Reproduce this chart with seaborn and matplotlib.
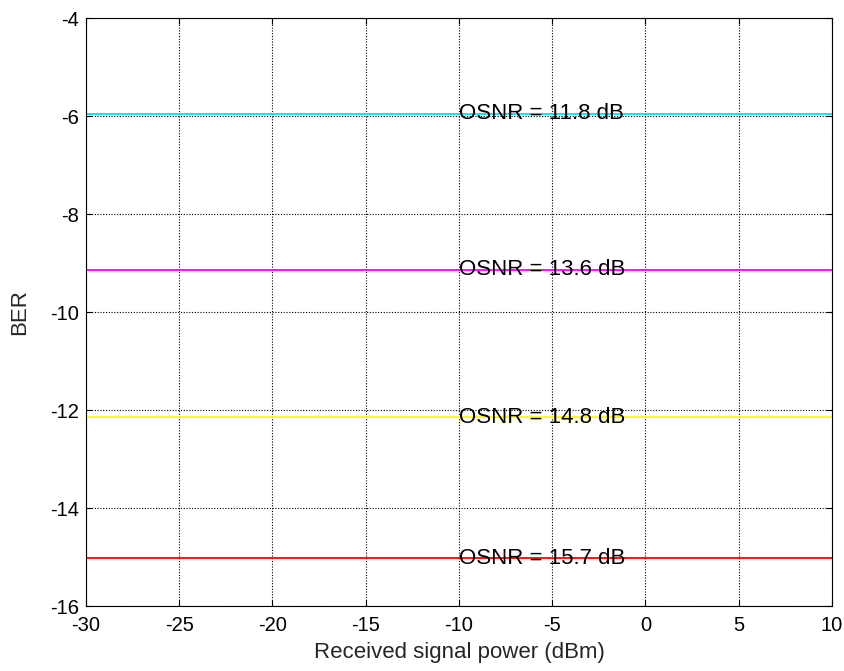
import matplotlib
matplotlib.use("Agg")
import matplotlib.pyplot as plt
import seaborn as sns
import pandas as pd
import numpy as np

x_range = [-30, 10]
osnr_labels = ["OSNR = 11.8 dB", "OSNR = 13.6 dB", "OSNR = 14.8 dB", "OSNR = 15.7 dB"]
ber_values = [-5.95, -9.14, -12.15, -15.03]
colors = ["#00e5e5", "#ff00ff", "#ffff00", "#ff0000"]
label_x = -10
x_ticks = [-30, -25, -20, -15, -10, -5, 0, 5, 10]
y_ticks = [-16, -14, -12, -10, -8, -6, -4]

sns.set_theme(style="white")
plt.rcParams['font.family'] = ['Liberation Sans', 'DejaVu Sans']
plt.rcParams['axes.unicode_minus'] = False

rows = []
for lab, v in zip(osnr_labels, ber_values):
    for xv in x_range:
        rows.append({"power": xv, "ber": v, "series": lab})
df = pd.DataFrame(rows)

fig = plt.figure(figsize=(8.45, 6.71), dpi=100)
ax = fig.add_axes([86/845, 65/671, (832-86)/845, (606-18)/671])
sns.lineplot(data=df, x="power", y="ber", hue="series", palette=colors,
             hue_order=osnr_labels, ax=ax, legend=False, linewidth=1.3)
for lab, v in zip(osnr_labels, ber_values):
    ax.text(label_x, v, lab, ha="left", va="center", fontsize=16, color="black")

ax.set_xlim(-30, 10)
ax.set_ylim(-16, -4)
ax.set_xticks(x_ticks)
ax.set_yticks(y_ticks)
ax.grid(True, color="black", linestyle=(0, (1, 1.5)), linewidth=0.8)
ax.tick_params(direction="in", length=4, width=0.8, labelsize=14.5, colors="black",
               top=True, right=True, bottom=True, left=True)
ax.tick_params(axis="x", pad=7)
ax.tick_params(axis="y", pad=5)
for s in ax.spines.values():
    s.set_color("black")
    s.set_linewidth(0.8)
ax.set_xlabel("Received signal power (dBm)", fontsize=16, labelpad=5)
ax.set_ylabel("BER", fontsize=16, labelpad=14)
fig.savefig("out.png", dpi=100, facecolor="white")
